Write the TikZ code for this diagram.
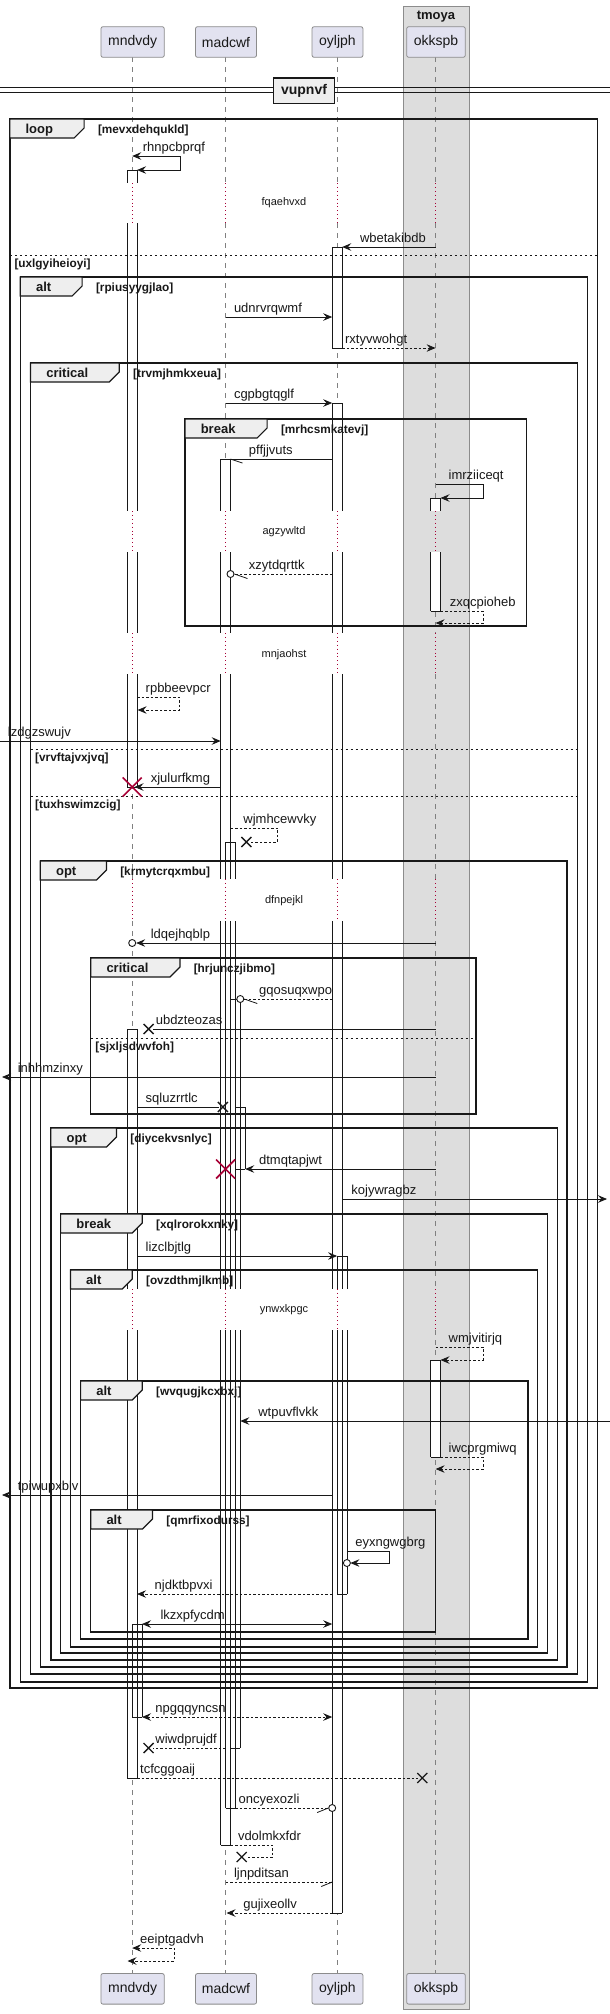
\documentclass[tikz,border=0pt]{standalone}
\usepackage{fontspec}
\setmainfont{Liberation Sans}
\usetikzlibrary{arrows.meta}
\definecolor{partfill}{HTML}{E2E2F0}
\definecolor{partdraw}{HTML}{8C8C8C}
\definecolor{boxfill}{HTML}{DDDDDD}
\definecolor{boxdraw}{HTML}{8C8C8C}
\definecolor{tabfill}{HTML}{EEEEEE}
\definecolor{dred}{HTML}{A80036}
\definecolor{lifec}{HTML}{808080}
\definecolor{ink}{HTML}{181818}
\newcommand\HMsg[5]{\coordinate (#1a) at (#2,#4); \coordinate (#1b) at (#3,#4); \draw[#5] (#1a) -- (#1b);}
\newcommand\MLab[4]{\node[lbl] (#1) at (#2,{#3-4.5}) {#4};}
\newcommand\SMsg[7]{\coordinate (#1a) at (#2,#4); \coordinate (#1b) at (#3,#4); \coordinate (#1c) at (#3,#5); \coordinate (#1d) at (#6,#5); \draw[#7] (#1a) -- (#1b) -- (#1c) -- (#1d);}
\newcommand\XMk[3]{\coordinate (#1) at (#2,#3); \draw[xm] (#1) ++(-5,-5) -- ++(10,10) (#1) ++(-5,5) -- ++(10,-10);}
\newcommand\RXMk[3]{\coordinate (#1) at (#2,#3); \draw[redx] (#1) ++(-9.5,-9.5) -- ++(19,19) (#1) ++(-9.5,9.5) -- ++(19,-19);}
\newcommand\FRect[5]{\coordinate (#1a) at (#2,#3); \coordinate (#1b) at (#4,#5); \draw[frm] (#1a) rectangle (#1b);}
\newcommand\FTab[6]{\draw[tabst] (#2,#3) -- (#4,#3) -- (#4,{#3+9}) -- ({#4-10},{#3+19}) -- (#2,{#3+19}) -- cycle;
  \node[ftitle] (#1t) at ({#2+15.6},{#3+14}) {#5};
  \node[fcond] (#1c) at ({#4+13.7},{#3+14}) {#6};}
\newcommand\ELine[5]{\coordinate (#1a) at (#2,#4); \coordinate (#1b) at (#3,#4); \draw[elsest] (#1a) -- (#1b);
  \node[fcond] (#1t) at ({#2+4.5},{#4+12}) {#5};}
\begin{document}
\begin{tikzpicture}[x=1pt,y=-1pt,
  >={Stealth[length=9pt,width=7.5pt,inset=3.2pt]},
  msg/.style={draw=ink, line width=0.8pt},
  rmsg/.style={draw=ink, line width=0.8pt, dash pattern=on 2.5pt off 2pt},
  lbl/.style={anchor=base west, inner sep=0pt, text=ink, font=\fontsize{13}{15}\selectfont},
  part/.style={draw=partdraw, fill=partfill, rounded corners=2pt, line width=0.8pt, minimum height=30.6pt, inner sep=0pt, text=ink, font=\fontsize{14}{16}\selectfont},
  lifel/.style={draw=lifec, line width=0.7pt, dash pattern=on 5pt off 5pt},
  dlyl/.style={draw=dred, line width=0.9pt, dash pattern=on 0.9pt off 3pt},
  dlyt/.style={inner sep=0pt, text=ink, font=\fontsize{11}{13}\selectfont},
  bard/.style={draw=ink, line width=0.8pt},
  frm/.style={draw=ink, line width=1.4pt},
  tabst/.style={draw=ink, fill=tabfill, line width=1.2pt},
  ftitle/.style={anchor=base west, inner sep=0pt, text=ink, font=\bfseries\fontsize{13}{15}\selectfont},
  fcond/.style={anchor=base west, inner sep=0pt, text=ink, font=\bfseries\fontsize{11.8}{14}\selectfont},
  elsest/.style={draw=ink, line width=0.8pt, dash pattern=on 2.5pt off 2.5pt},
  xm/.style={draw=ink, line width=1.3pt},
  redx/.style={draw=dred, line width=1.6pt},
  circ/.style={circle, draw=ink, fill=white, line width=0.9pt, minimum size=7pt, inner sep=0pt}
]
\useasboundingbox (0,0) rectangle (610,2014);
\fill[white] (0,0) rectangle (610,2014);
% box tmoya
\node[draw=boxdraw, fill=boxfill, line width=0.8pt, minimum width=66.4pt, minimum height=2003.3pt, inner sep=0pt, anchor=north west] (tbox) at (402.8,6) {};
\node[inner sep=0pt, text=ink, font=\bfseries\fontsize{13}{15}\selectfont] (tboxt) at (436,16.5) {tmoya};
% lifelines
\foreach \lx in {132.2,225.6,337.1,435.6}{
  \foreach \ya/\yb in {57.3/183,223/511,552/633,674/879,921/1289,1330/1973.3}{\draw[lifel] (\lx,\ya) -- (\lx,\yb);}
  \foreach \ya/\yb in {183/223,511/552,633/674,879/921,1289/1330}{\draw[dlyl] (\lx,\ya) -- (\lx,\yb);}
}
% activation bars
\def\barsegs{127.3/170/183, 127.3/223/511, 127.3/552/633, 127.3/674/787,
 127.3/1029/1289, 127.3/1330/1778, 132.2/1624/1717,
 220.7/459/511, 220.7/552/633, 220.7/674/879, 220.7/921/1289, 220.7/1330/1845,
 225.6/842/879, 225.6/921/1289, 225.6/1330/1808,
 230.5/999/1289, 230.5/1330/1748, 235.4/1107/1169,
 332.2/247/348, 332.2/403/511, 332.2/552/633, 332.2/674/879, 332.2/921/1289, 332.2/1330/1913,
 337.1/1256/1289, 337.1/1330/1594,
 430.7/498/511, 430.7/552/611, 430.7/1360/1457}
\def\barcaps{127.3/170, 127.3/787, 127.3/1029, 127.3/1778, 132.2/1624, 132.2/1717,
 220.7/459, 220.7/1845, 225.6/842, 225.6/1808, 230.5/999, 230.5/1748, 235.4/1107, 235.4/1169,
 332.2/247, 332.2/348, 332.2/403, 332.2/1913, 337.1/1256, 337.1/1594,
 430.7/498, 430.7/611, 430.7/1360, 430.7/1457}
\foreach \xl/\ya/\yb in \barsegs {\fill[white] (\xl,\ya) rectangle ({\xl+9.8},\yb);}
% frames
\FRect{f1}{9.8}{119}{597.5}{1688}
\FRect{f2}{20.3}{277}{587.7}{1682}
\FRect{f3}{30.5}{363}{577.6}{1674}
\FRect{f4}{185}{419}{526.7}{626}
\FRect{f5}{40.3}{861}{567}{1667}
\FRect{f6}{90.7}{958}{475.9}{1114}
\FRect{f7}{50.8}{1128}{557.2}{1660}
\FRect{f8}{60.6}{1214}{547.4}{1653}
\FRect{f9}{70.4}{1270}{537.7}{1647}
\FRect{f10}{80.6}{1381}{527.9}{1639}
\FRect{f11}{90.7}{1510}{435.6}{1632}
\ELine{e1}{9.8}{597.5}{255}{[uxlgyiheioyi]}
\ELine{e2}{30.5}{577.6}{749}{[vrvftajvxjvq]}
\ELine{e3}{30.5}{577.6}{796}{[tuxhswimzcig]}
\ELine{e4}{90.7}{475.9}{1038}{[sjxljsdwvfoh]}
% bar outlines
\foreach \xl/\ya/\yb in \barsegs {\draw[bard] (\xl,\ya) -- (\xl,\yb) ({\xl+9.8},\ya) -- ({\xl+9.8},\yb);}
\foreach \xl/\yy in \barcaps {\draw[bard] (\xl,\yy) -- ({\xl+9.8},\yy);}
% tabs
\FTab{g1}{9.8}{119}{84.1}{loop}{[mevxdehqukld]}
\FTab{g2}{20.3}{277}{82.1}{alt}{[rpiusyygjlao]}
\FTab{g3}{30.5}{363}{119.3}{critical}{[trvmjhmkxeua]}
\FTab{g4}{185}{419}{267.1}{break}{[mrhcsmkatevj]}
\FTab{g5}{40.3}{861}{106.4}{opt}{[krmytcrqxmbu]}
\FTab{g6}{90.7}{958}{179.9}{critical}{[hrjunczjibmo]}
\FTab{g7}{50.8}{1128}{116.5}{opt}{[diycekvsnlyc]}
\FTab{g8}{60.6}{1214}{142.3}{break}{[xqlrorokxnky]}
\FTab{g9}{70.4}{1270}{132.2}{alt}{[ovzdthmjlkmb]}
\FTab{g10}{80.6}{1381}{142.3}{alt}{[wvqugjkcxbxj]}
\FTab{g11}{90.7}{1510}{152.5}{alt}{[qmrfixodurss]}
% delays
\node[dlyt] (d1) at (284,203) {fqaehvxd};
\node[dlyt] (d2) at (284,532) {agzywltd};
\node[dlyt] (d3) at (284,655) {mnjaohst};
\node[dlyt] (d4) at (284,901) {dfnpejkl};
\node[dlyt] (d5) at (284,1310) {ynwxkpgc};
% messages
\SMsg{m1}{132.2}{179.9}{156}{170}{137.1}{msg,<->} \MLab{t1}{142.7}{156}{rhnpcbprqf}
\HMsg{m3}{435.6}{342.2}{247}{msg,->} \MLab{t3}{359.8}{247}{wbetakibdb}
\HMsg{m6}{225.6}{332.2}{317}{msg,->} \MLab{t6}{233.8}{317}{udnrvrqwmf}
\HMsg{m7}{342.2}{435.6}{348}{rmsg,->} \MLab{t7}{344.9}{348}{rxtyvwohgt}
\HMsg{m9}{225.6}{332.2}{403}{msg,->} \MLab{t9}{233.8}{403}{cgpbgtqglf}
\HMsg{m11}{332.2}{230.5}{459}{msg} \draw[msg] (m11b) -- ++(12,4); \MLab{t11}{248.7}{459}{pffjjvuts}
\SMsg{m12}{435.6}{482.9}{484}{498}{440.5}{msg,->} \MLab{t12}{448.5}{484}{imrziiceqt}
\node[circ] (c14) at (230.5,574) {};
\coordinate (m14a) at (332.2,574); \draw[rmsg] (m14a) -- (c14.east); \draw[msg] (c14.east) -- ++(13,4.5); \MLab{t14}{248.7}{574}{xzytdqrttk}
\SMsg{m15}{440.5}{482.9}{611}{623}{435.6}{rmsg,->} \MLab{t15}{449.7}{611}{zxqcpioheb}
\SMsg{m18}{137.1}{179.1}{697}{710}{137.6}{rmsg,->} \MLab{t18}{145.5}{697}{rpbbeevpcr}
\HMsg{m19}{0}{220.7}{741}{msg,->} \MLab{t19}{7.8}{741}{lzdgzswujv}
\HMsg{m21}{220.7}{134.5}{787}{msg,->} \RXMk{x21}{132.2}{787} \MLab{t21}{150.6}{787}{xjulurfkmg}
\SMsg{m23}{230.5}{277.6}{828}{842}{251}{rmsg} \XMk{x23}{246.4}{842} \MLab{t23}{243.2}{828}{wjmhcewvky}
\node[circ] (c26) at (132.2,943) {};
\coordinate (m26a) at (435.6,943); \draw[msg,->] (m26a) -- (c26.east); \MLab{t26}{150.6}{943}{ldqejhqblp}
\node[circ] (c28) at (240.3,999) {};
\coordinate (m28a) at (332.2,999); \draw[rmsg] (m28a) -- (c28.east); \draw[msg] (c28.east) -- ++(13,4.5); \MLab{t28}{258.9}{999}{gqosuqxwpo}
\HMsg{m29}{435.6}{153}{1029}{msg} \XMk{x29}{148.6}{1029} \MLab{t29}{155.6}{1029}{ubdzteozas}
\HMsg{m31}{435.6}{2}{1077}{msg,->} \MLab{t31}{17.6}{1077}{inhhmzinxy}
\HMsg{m32}{137.1}{218.5}{1107}{msg} \XMk{x32}{222.9}{1107} \MLab{t32}{145.5}{1107}{sqluzrrtlc}
\HMsg{m35}{435.6}{245.2}{1169}{msg,->} \RXMk{x35}{225.6}{1169} \MLab{t35}{258.9}{1169}{dtmqtapjwt}
\HMsg{m36}{342.2}{607}{1199}{msg,->} \MLab{t36}{351.2}{1199}{kojywragbz}
\HMsg{m38}{137.1}{337.1}{1256}{msg,->} \MLab{t38}{145.5}{1256}{lizclbjtlg}
\SMsg{m41}{435.6}{482.9}{1347}{1360}{440.5}{rmsg,->} \MLab{t41}{448.5}{1347}{wmjvitirjq}
\HMsg{m43}{610}{240.3}{1421}{msg,->} \MLab{t43}{258.1}{1421}{wtpuvflvkk}
\SMsg{m44}{440.5}{482.9}{1457}{1469}{435.6}{rmsg,->} \MLab{t44}{448.5}{1457}{iwcprgmiwq}
\HMsg{m45}{332.2}{2}{1495}{msg,->} \MLab{t45}{17.6}{1495}{tpiwupxblv}
\SMsg{m47}{346.9}{389.1}{1551}{1563}{350.4}{msg,->} \node[circ] (c47) at (346.9,1563) {}; \MLab{t47}{355.1}{1551}{eyxngwgbrg}
\HMsg{m48}{332.2}{137.1}{1594}{rmsg,->} \MLab{t48}{154.5}{1594}{njdktbpvxi}
\HMsg{m49}{142}{332.2}{1624}{msg,<->} \MLab{t49}{160.3}{1624}{lkzxpfycdm}
\HMsg{m51}{142}{332.2}{1717}{rmsg,<->} \MLab{t51}{155.2}{1717}{npgqqyncsn}
\HMsg{m52}{225.6}{153}{1748}{rmsg} \XMk{x52}{148.6}{1748} \MLab{t52}{155.2}{1748}{wiwdprujdf}
\HMsg{m53}{137.1}{418}{1778}{rmsg} \XMk{x53}{422.3}{1778} \MLab{t53}{140}{1778}{tcfcggoaij}
\node[circ] (c54) at (332.2,1808) {};
\coordinate (m54a) at (235.4,1808); \draw[rmsg] (m54a) -- (c54.west); \draw[msg] (c54.west) -- ++(-11,4.5); \MLab{t54}{238.5}{1808}{oncyexozli}
\SMsg{m55}{230.5}{272.5}{1845}{1857}{246.5}{rmsg} \XMk{x55}{241.7}{1857} \MLab{t55}{237.8}{1845}{vdolmkxfdr}
\HMsg{m56}{225.6}{332.2}{1882}{rmsg} \draw[msg] (m56b) -- ++(-11,4.5); \MLab{t56}{233.8}{1882}{ljnpditsan}
\HMsg{m57}{332.2}{226.5}{1913}{rmsg,->} \MLab{t57}{243.2}{1913}{gujixeollv}
\SMsg{m58}{132.2}{174}{1948}{1961}{127.5}{rmsg,<->} \MLab{t58}{140}{1948}{eeiptgadvh}
% participants
\node[part, minimum width=63.3pt] (pA) at (132.6,42) {mndvdy};
\node[part, minimum width=61pt] (pB) at (226,42) {madcwf};
\node[part, minimum width=50.9pt] (pC) at (337.5,42) {oyljph};
\node[part, minimum width=58.6pt] (pD) at (436,42) {okkspb};
\node[part, minimum width=63.3pt] (qA) at (132.6,1988.8) {mndvdy};
\node[part, minimum width=61pt] (qB) at (226,1988.8) {madcwf};
\node[part, minimum width=50.9pt] (qC) at (337.5,1988.8) {oyljph};
\node[part, minimum width=58.6pt] (qD) at (436,1988.8) {okkspb};
% divider
\coordinate (dv1a) at (0,87.3); \coordinate (dv1b) at (610,87.3);
\coordinate (dv2a) at (0,92); \coordinate (dv2b) at (610,92);
\draw[ink, line width=0.9pt] (dv1a) -- (dv1b) (dv2a) -- (dv2b);
\node[draw=ink, fill=tabfill, line width=1.4pt, minimum width=60.6pt, minimum height=25.3pt, inner sep=0pt, text=ink, font=\bfseries\fontsize{14}{16}\selectfont] (div) at (304,90.7) {vupnvf};
\end{tikzpicture}
\end{document}
